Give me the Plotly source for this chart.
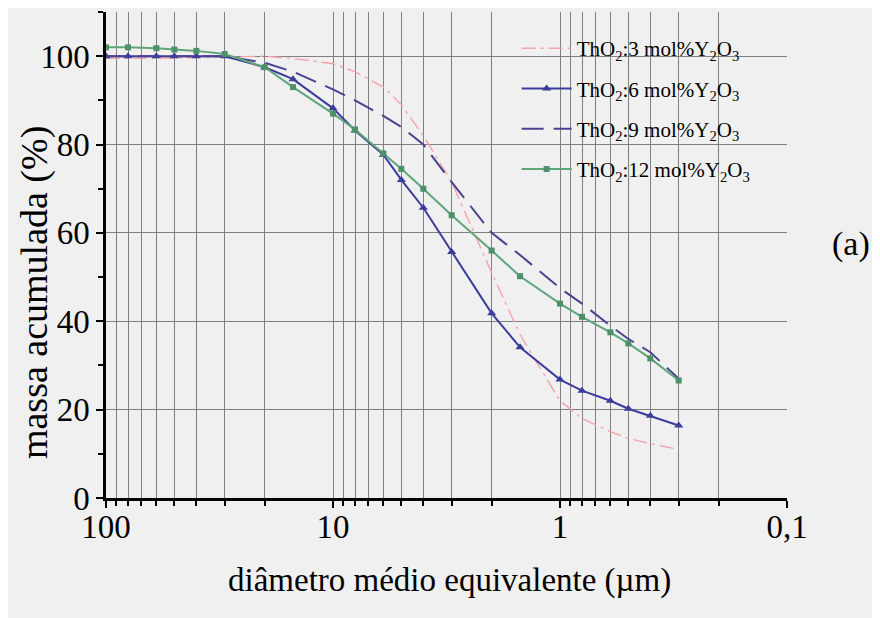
import plotly.graph_objects as go

# ---- data ----
diametro = [100, 80, 60, 50, 40, 30, 20, 15, 10, 8, 6, 5, 4, 3, 2, 1.5, 1, 0.8, 0.6, 0.5, 0.4, 0.3]
mol3 = [99.5, 99.5, 99.5, 99.6, 99.7, 99.8, 100.0, 99.5, 98.3, 96.5, 93.0, 89.0, 82.0, 71.5, 51.0, 37.0, 22.0, 18.0, 15.0, 13.5, 12.3, 11.0]
mol6 = [100.0, 100.0, 100.0, 100.0, 100.0, 100.0, 97.5, 94.8, 88.2, 83.2, 77.7, 72.0, 65.7, 55.7, 41.8, 34.1, 26.8, 24.3, 22.0, 20.2, 18.6, 16.4]
mol9 = [100.0, 100.0, 100.0, 100.0, 100.0, 100.0, 98.5, 96.5, 92.5, 90.0, 86.5, 84.0, 80.0, 71.5, 60.0, 55.0, 47.5, 44.0, 39.0, 36.0, 33.0, 27.0]
mol12 = [102.0, 102.0, 101.8, 101.5, 101.2, 100.5, 97.5, 93.0, 87.0, 83.4, 78.0, 74.5, 70.0, 64.0, 56.0, 50.2, 44.0, 41.0, 37.5, 35.0, 31.6, 26.6]

names = ["ThO<sub>2</sub>:3 mol%Y<sub>2</sub>O<sub>3</sub>",
         "ThO<sub>2</sub>:6 mol%Y<sub>2</sub>O<sub>3</sub>",
         "ThO<sub>2</sub>:9 mol%Y<sub>2</sub>O<sub>3</sub>",
         "ThO<sub>2</sub>:12 mol%Y<sub>2</sub>O<sub>3</sub>"]

x_major = [100, 10, 1, 0.1]
x_major_text = ["100", "10", "1", "0,1"]
y_major = [0, 20, 40, 60, 80, 100]

BG = "#f0f0f0"
FONT = "Liberation Serif"
GRID = "#808080"

x_minor = [m * 10.0 ** e for e in (-1, 0, 1) for m in range(2, 10)]

fig = go.Figure()
fig.add_trace(go.Scatter(x=diametro, y=mol3, name=names[0], mode="lines", legendgroup="a",
                         line=dict(color="#f3a3aa", width=1.4, dash="14px,5px,3px,5px")))
fig.add_trace(go.Scatter(x=diametro, y=mol6, name=names[1], mode="lines+markers", legendgroup="b",
                         line=dict(color="#3c3c9c", width=2),
                         marker=dict(symbol="triangle-up", size=8, color="#3c3c9c")))
fig.add_trace(go.Scatter(x=diametro, y=mol9, name=names[2], mode="lines", legendgroup="c",
                         line=dict(color="#4a4290", width=2, dash="22px,10px")))
fig.add_trace(go.Scatter(x=diametro, y=mol12, name=names[3], mode="lines+markers", legendgroup="d",
                         line=dict(color="#5fa67a", width=2),
                         marker=dict(symbol="square", size=6, color="#4e9068")))

fig.update_layout(
    width=880, height=618,
    margin=dict(l=98, r=101, t=4, b=128),
    paper_bgcolor=BG, plot_bgcolor=BG,
    font=dict(family=FONT, color="black", size=30),
    showlegend=True,
    legend=dict(x=0.603, y=0.967, xanchor="left", yanchor="top",
                bgcolor="rgba(0,0,0,0)", font=dict(size=21, family=FONT),
                tracegroupgap=10, itemwidth=50),
    xaxis=dict(type="log", range=[2, -1], tickvals=x_major, ticktext=x_major_text,
               ticks="outside", ticklen=7, tickwidth=2, tickcolor="black",
               ticklabelstandoff=-9,
               showline=True, linecolor="black", linewidth=2.5,
               showgrid=True, gridcolor=GRID, gridwidth=1, automargin=False,
               tickfont=dict(size=33, family=FONT),
               minor=dict(tickvals=x_minor, ticks="outside", ticklen=5, tickwidth=2, tickcolor="black",
                          showgrid=True, gridcolor=GRID, gridwidth=1),
               zeroline=False),
    yaxis=dict(range=[0, 110], tickvals=y_major,
               ticks="outside", ticklen=7, tickwidth=2, tickcolor="black",
               showline=True, linecolor="black", linewidth=2.5,
               showgrid=True, gridcolor=GRID, gridwidth=1, automargin=False,
               tickfont=dict(size=33, family=FONT),
               minor=dict(dtick=10, tick0=0, ticks="outside", ticklen=5, tickwidth=2, tickcolor="black",
                          showgrid=False),
               zeroline=False),
    xaxis2=dict(type="log", range=[2, -1], overlaying="x", side="top", anchor="y",
                tickvals=x_major, ticks="inside", ticklen=10, tickwidth=2, tickcolor="black",
                showticklabels=False, showline=True, linecolor="black", linewidth=2.5, showgrid=False,
                minor=dict(tickvals=x_minor, ticks="inside", ticklen=6, tickwidth=2, tickcolor="black")),
    yaxis2=dict(range=[0, 110], overlaying="y", side="right", anchor="x",
                tickvals=y_major, ticks="inside", ticklen=7, tickwidth=2, tickcolor="black",
                showticklabels=False, showline=True, linecolor="black", linewidth=2.5, showgrid=False,
                minor=dict(dtick=10, tick0=0, ticks="inside", ticklen=5, tickwidth=2, tickcolor="black")),
    shapes=[dict(type="rect", xref="paper", yref="paper", x0=0.549, x1=1.0, y0=0.593, y1=1.0,
                 fillcolor=BG, line=dict(width=0), layer="between")],
    annotations=[
        dict(text="(a)", xref="paper", yref="paper", x=1.094, y=0.523,
             xanchor="center", yanchor="middle", showarrow=False,
             font=dict(size=34, family=FONT)),
        dict(text="diâmetro médio equivalente (µm)", xref="paper", yref="paper", x=0.504, y=-0.169,
             xanchor="center", yanchor="middle", showarrow=False,
             font=dict(size=33, family=FONT)),
        dict(text="massa acumulada (%)", xref="paper", yref="paper", x=-0.104, y=0.422,
             xanchor="center", yanchor="middle", showarrow=False, textangle=-90,
             font=dict(size=38, family=FONT)),
    ],
)

fig.write_html("out.html")
